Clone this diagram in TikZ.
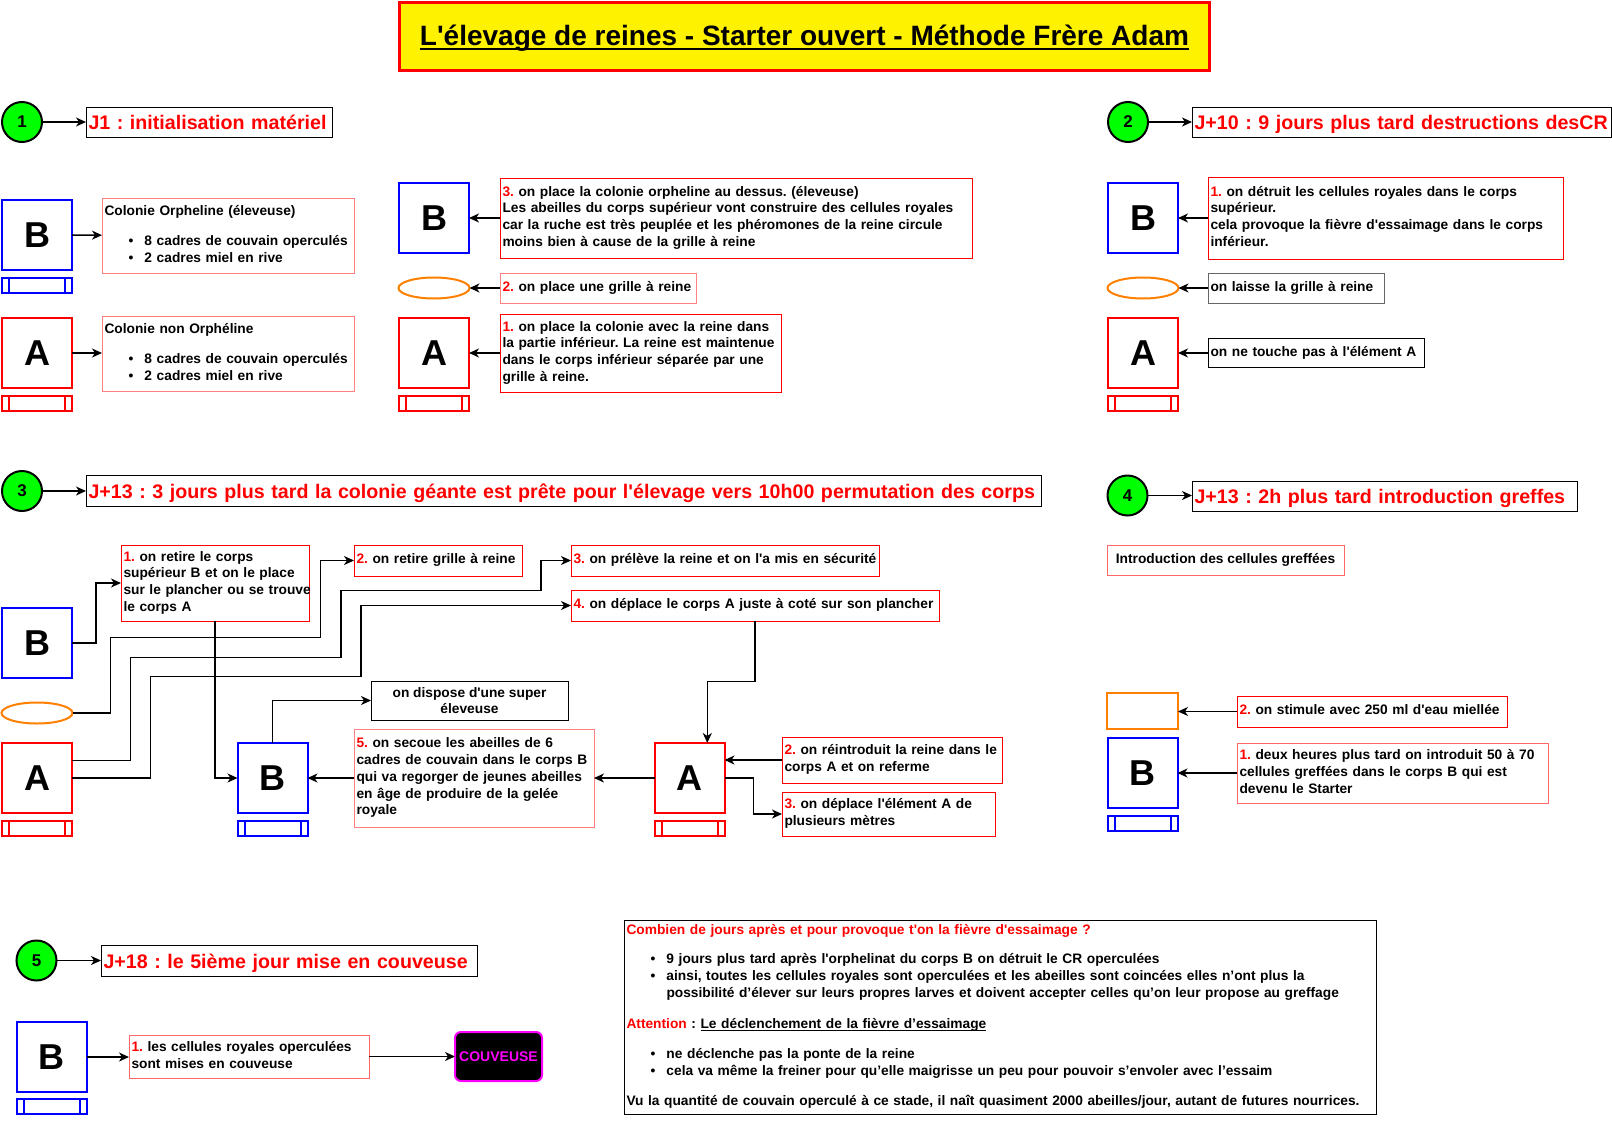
\documentclass[tikz,border=0pt]{standalone}
\usepackage{fontspec}
\setmainfont{Liberation Sans}[Ligatures=TeXOff]
\usetikzlibrary{arrows.meta,shapes.geometric,calc}
\definecolor{pinkr}{HTML}{FF8080}
\definecolor{redpk}{HTML}{FF6666}
\definecolor{orng}{HTML}{FF8000}
\definecolor{grn}{HTML}{00FF00}
\definecolor{gry}{HTML}{666666}
\definecolor{mag}{HTML}{FF00FF}
\newcommand{\rn}[1]{\textcolor{red}{#1}}
\newcommand{\bitem}[1]{\hspace*{24pt}\makebox[16pt][l]{\textbullet}#1}
\newcommand{\txl}[1]{\begin{tabular}{@{}l@{}}#1\end{tabular}}
\newcommand{\myunder}[3]{\setbox0\hbox{#1}\rlap{\rule[#2]{\wd0}{#3}}\box0}
\begin{document}
\frenchspacing
\begin{tikzpicture}[x=1pt,y=-1pt,
  every node/.style={outer sep=0pt},
  arr/.style={line width=1.5pt,-{Stealth[length=10pt,width=9pt,inset=3pt]}},
  hive/.style={draw=#1,line width=2pt,minimum width=70,minimum height=70,inner sep=0pt,font=\fontsize{36}{40}\selectfont\bfseries},
  baseproc/.style={draw=#1,line width=2pt,minimum width=70,minimum height=15,inner sep=0pt,
    path picture={\draw[#1,line width=2pt] ([xshift=7pt]path picture bounding box.north west) -- ([xshift=7pt]path picture bounding box.south west)
      ([xshift=-7pt]path picture bounding box.north east) -- ([xshift=-7pt]path picture bounding box.south east);}},
  num/.style={circle,draw=black,line width=2pt,fill=grn,minimum size=40,inner sep=0pt,font=\fontsize{17}{20}\selectfont\bfseries},
  tb/.style 2 args={minimum width=#1,minimum height=#2,text width=#1-5,inner xsep=2.5,inner ysep=0,align=left,line width=1pt,font=\fontsize{13.75}{16.8}\selectfont\bfseries},
  hdr/.style 2 args={tb={#1}{#2},draw=black,text=red,font=\fontsize{19.65}{24}\selectfont\bfseries,text height=15pt,text depth=0pt},
  grille/.style={ellipse,draw=orng,line width=2pt,minimum width=71,minimum height=21,inner sep=0pt},
  cbox/.style={line width=1pt,inner sep=0pt,align=center,font=\fontsize{13.75}{16.8}\selectfont\bfseries}
]
\fill[white] (0,0) rectangle (1612,1127);
\useasboundingbox (0,0) rectangle (1612,1127);

% title
\node[draw=red,line width=3pt,fill=yellow,minimum width=810,minimum height=68,inner sep=0pt,text height=24pt,text depth=6pt,font=\fontsize{28}{34}\selectfont\bfseries] (title) at (804.5,36.5)
  {\myunder{L'élevage de reines - Starter ouvert - Méthode Frère Adam}{-4.5pt}{2pt}};

% ---------- section 1
\node[num] (c1) at (22,122) {1};
\node[hdr={246}{30}] (h1) at (209,122) {\mbox{J1 : initialisation matériel}};
\draw[arr] (c1) -- (h1);

\node[hive=blue] (B1) at (37,235) {B};
\node[baseproc=blue] (B1b) at (37,285.5) {};
\node[tb={252}{75},draw=pinkr] (i1) at (228,235.5)
  {\txl{Colonie Orpheline (éleveuse)\\[14pt]\bitem{8 cadres de couvain operculés}\\\bitem{2 cadres miel en rive}}};
\draw[arr] (B1) -- (i1);

\node[hive=red] (A1) at (37,353) {A};
\node[baseproc=red] (A1b) at (37,403.5) {};
\node[tb={252}{75},draw=pinkr] (i2) at (228,353.5)
  {\txl{Colonie non Orphéline\\[14pt]\bitem{8 cadres de couvain operculés}\\\bitem{2 cadres miel en rive}}};
\draw[arr] (A1) -- (A1 -| i2.west);

\node[hive=blue] (B2) at (434,218) {B};
\node[tb={472}{80},draw=red] (m3) at (736,218)
  {\txl{\rn{3.} on place la colonie orpheline au dessus. (éleveuse)\\Les abeilles du corps supérieur vont construire des cellules royales\\car la ruche est très peuplée et les phéromones de la reine circule\\moins bien à cause de la grille à reine}};
\draw[arr] (m3) -- (B2);
\node[grille] (g1) at (434,288) {};
\node[tb={196}{30},draw=pinkr] (m2) at (598,288) {\txl{\rn{2.} on place une grille à reine}};
\draw[arr] (m2) -- (g1);
\node[hive=red] (A2) at (434,353) {A};
\node[baseproc=red] (A2b) at (434,403.5) {};
\node[tb={281}{78},draw=red] (m1) at (640.5,353)
  {\txl{\rn{1.} on place la colonie avec la reine dans\\la partie inférieur. La reine est maintenue\\dans le corps inférieur séparée par une\\grille à reine.}};
\draw[arr] (m1) -- (A2);

% ---------- section 2
\node[num] (c2) at (1128,122) {2};
\node[hdr={419}{30}] (h2) at (1401.5,122) {\mbox{J+10 : 9 jours plus tard destructions desCR}};
\draw[arr] (c2) -- (h2);
\node[hive=blue] (B3) at (1143,218) {B};
\node[tb={355}{82},draw=red] (d1) at (1385.5,218)
  {\txl{\rn{1.} on détruit les cellules royales dans le corps\\supérieur.\\cela provoque la fièvre d'essaimage dans le corps\\inférieur.}};
\draw[arr] (d1) -- (B3);
\node[grille] (g2) at (1143,288) {};
\node[tb={176}{30},draw=gry] (lg) at (1296,288) {\txl{on laisse la grille à reine}};
\draw[arr] (lg) -- (g2);
\node[hive=red] (A3) at (1143,353) {A};
\node[baseproc=red] (A3b) at (1143,403.5) {};
\node[tb={216}{29},draw=black] (nt) at (1316,353) {\txl{on ne touche pas à l'élément A}};
\draw[arr] (nt) -- (A3);

% ---------- section 3
\node[num] (c3) at (22,491) {3};
\node[hdr={955}{31}] (h3) at (563.5,490.5) {\mbox{J+13 : 3 jours plus tard la colonie géante est prête pour l'élevage vers 10h00 permutation des corps}};
\draw[arr] (c3) -- (c3 -| h3.west);

\node[hive=blue] (B4) at (37,643) {B};
\node[grille] (g3) at (37,713) {};
\node[hive=red] (A4) at (37,778) {A};
\node[baseproc=red] (A4b) at (37,828) {};

\node[tb={188}{76},draw=red] (s1) at (215,583)
  {\txl{\rn{1.} on retire le corps\\supérieur B et on le place\\sur le plancher ou se trouve\\le corps A}};
\node[tb={168}{31},draw=red] (s2) at (438,560.5) {\txl{\rn{2.} on retire grille à reine}};
\node[tb={308}{31},draw=red] (s3) at (725,560.5) {\txl{\rn{3.} on prélève la reine et on l'a mis en sécurité}};
\node[tb={368}{31},draw=red] (s4) at (755,605.5) {\txl{\rn{4.} on déplace le corps A juste à coté sur son plancher}};

\node[hive=blue] (B5) at (272.5,778) {B};
\node[baseproc=blue] (B5b) at (272.5,828) {};
\node[cbox,draw=black,minimum width=197,minimum height=39] (disp) at (469.5,700.5) {on dispose d'une super\\éleveuse};
\node[tb={240}{98},draw=pinkr] (s5) at (474,778)
  {\txl{\rn{5.} on secoue les abeilles de 6\\cadres de couvain dans le corps B\\qui va regorger de jeunes abeilles\\en âge de produire de la gelée\\royale}};
\node[hive=red] (A5) at (689.5,778) {A};
\node[baseproc=red] (A5b) at (689.5,828) {};
\node[tb={220}{46},draw=red] (r2) at (892,760) {\txl{\rn{2.} on réintroduit la reine dans le\\corps A et on referme}};
\node[tb={213}{44},draw=red] (r3) at (888.5,814) {\txl{\rn{3.} on déplace l'élément A de\\plusieurs mètres}};

\draw[arr] (B4.east) -- (96,643) |- (s1.west);
\draw[arr] (g3.east) -- (110.7,713) -- (110.7,637.3) -- (320.3,637.3) |- (s2.west);
\draw[arr] ([yshift=17.3pt]A4.east) -- (130.5,760.7) -- (130.5,657.3) -- (341.2,657.3) -- (341.2,590.7) -- (541,590.7) |- (s3.west);
\draw[arr] (A4.east) -- (150.3,778) -- (150.3,676.7) -- (361,676.7) |- (s4.west);
\draw[arr] (s1.south) |- (B5.west);
\draw[arr] (B5.north) |- (disp.west);
\draw[arr] (s5.west) -- (B5.east);
\draw[arr] (A5.west) -- (s5.east);
\draw[arr] (s4.south) -- (755,681.7) -- (707.3,681.7) -- ([xshift=17.8pt]A5.north);
\draw[arr] (r2.west) -- (r2.west -| A5.east);
\draw[arr] (A5.east) -- (753.3,778) |- (r3.west);

% ---------- section 4
\node[num] (c4) at (1127.5,495.5) {4};
\node[hdr={385}{30}] (h4) at (1384.5,496) {\mbox{J+13 : 2h plus tard introduction greffes}};
\draw[arr] (c4) -- (c4 -| h4.west);
\node[cbox,draw=redpk,minimum width=237,minimum height=30] (intro) at (1225.5,560) {Introduction des cellules greffées};
\node[draw=orng,line width=2pt,minimum width=71,minimum height=36,inner sep=0pt] (feed) at (1142.5,711) {};
\node[tb={270}{31},draw=red] (st) at (1372,711.5) {\txl{\rn{2.} on stimule avec 250 ml d'eau miellée}};
\draw[arr] (st.west) -- (st.west -| feed.east);
\node[hive=blue] (B6) at (1142.5,773) {B};
\node[baseproc=blue] (B6b) at (1142.5,823) {};
\node[tb={311}{60},draw=redpk] (dx) at (1392.5,773)
  {\txl{\rn{1.} deux heures plus tard on introduit 50 à 70\\cellules greffées dans le corps B qui est\\devenu le Starter}};
\draw[arr] (dx) -- (B6);

% ---------- section 5
\node[num] (c5) at (36.5,960.5) {5};
\node[hdr={376}{31}] (h5) at (289,960.5) {\mbox{J+18 : le 5ième jour mise en couveuse}};
\draw[arr] (c5) -- (h5);
\node[hive=blue] (B7) at (51.5,1057) {B};
\node[baseproc=blue] (B7b) at (51.5,1106.5) {};
\node[tb={240}{43},draw=redpk] (cb) at (249,1056.5) {\txl{\rn{1.} les cellules royales operculées\\sont mises en couveuse}};
\node[draw=mag,fill=black,rounded corners=6pt,line width=2pt,minimum width=87,minimum height=49,inner sep=0pt,text=mag,font=\fontsize{14}{17}\selectfont\bfseries] (couv) at (498.5,1056.5) {COUVEUSE};
\draw[arr] (B7.east) -- (B7.east -| cb.west);
\draw[arr] (cb) -- (couv);

\node[tb={752}{194},draw=black,font=\fontsize{13.75}{17}\selectfont\bfseries] (big) at (1000,1017)
  {\txl{\rn{Combien de jours après et pour provoque t'on la fièvre d'essaimage ?}\\[11.5pt]
  \bitem{9 jours plus tard après l'orphelinat du corps B on détruit le CR operculées}\\
  \bitem{ainsi, toutes les cellules royales sont operculées et les abeilles sont coincées elles n’ont plus la}\\
  \hspace*{40pt}possibilité d’élever sur leurs propres larves et doivent accepter celles qu’on leur propose au greffage\\[14pt]
  \rn{Attention} : \myunder{Le déclenchement de la fièvre d’essaimage}{-2.5pt}{0.9pt}\\[13pt]
  \bitem{ne déclenche pas la ponte de la reine}\\
  \bitem{cela va même la freiner pour qu’elle maigrisse un peu pour pouvoir s’envoler avec l’essaim}\\[13.5pt]
  Vu la quantité de couvain operculé à ce stade, il naît quasiment 2000 abeilles/jour, autant de futures nourrices.}};
\end{tikzpicture}
\end{document}
